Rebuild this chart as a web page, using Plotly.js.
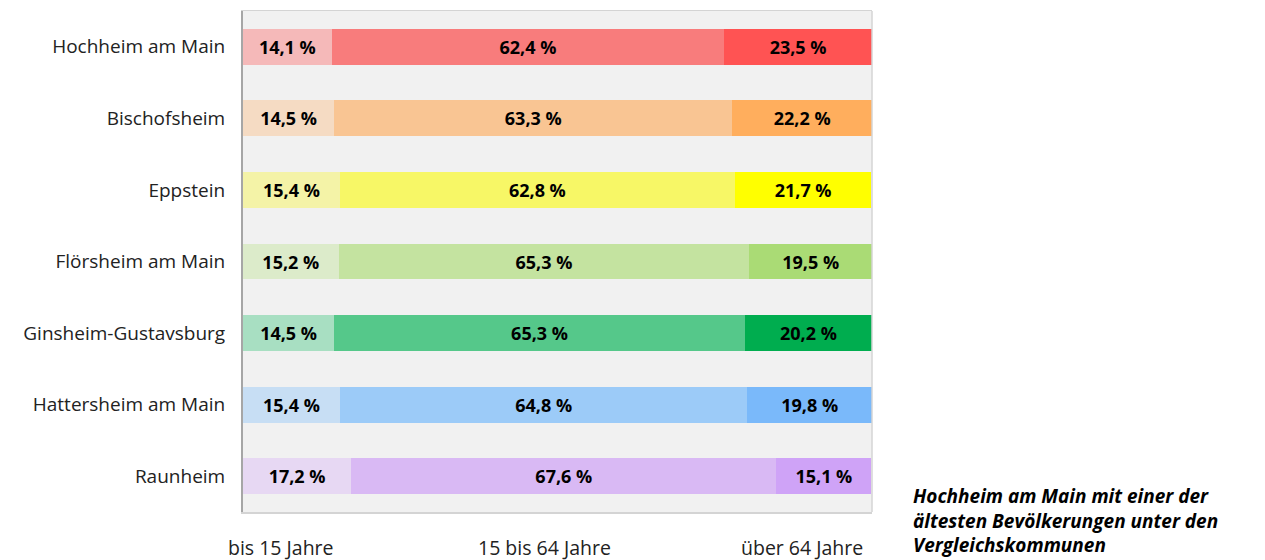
<!DOCTYPE html>
<html>
<head>
<meta charset="utf-8">
<script src="https://cdn.plot.ly/plotly-3.0.1.min.js"></script>
<style>html,body{margin:0;padding:0;background:#fff;}#chart{width:1265px;height:560px;}</style>
</head>
<body>
<div id="chart"></div>
<script>
const categories = ["Hochheim am Main","Bischofsheim","Eppstein","Flörsheim am Main","Ginsheim-Gustavsburg","Hattersheim am Main","Raunheim"];
const seriesNames = ["bis 15 Jahre","15 bis 64 Jahre","über 64 Jahre"];
const young = [14.1,14.5,15.4,15.2,14.5,15.4,17.2];
const middle = [62.4,63.3,62.8,65.3,65.3,64.8,67.6];
const old = [23.5,22.2,21.7,19.5,20.2,19.8,15.1];
const colorsYoung = ["#f5b9b9","#f5dbc3","#f4f3a7","#dcebca","#a8dfc2","#c7def4","#e7d8f3"];
const colorsMiddle = ["#f87c7c","#f9c593","#f7f766","#c4e3a0","#55c88a","#9ccbf8","#d9b9f4"];
const colorsOld = ["#ff5353","#ffae5d","#ffff00","#aadb75","#00ad4f","#7ab9fa","#cfa3f7"];
const footnote = "Hochheim am Main mit einer der<br>ältesten Bevölkerungen unter den<br>Vergleichskommunen";

const fmt = v => v.toFixed(1).replace('.', ',') + ' %';
const FONT = "Open Sans, sans-serif";

function mk(vals, colors, name){
  return {
    type:'bar', orientation:'h', name:name,
    y:categories, x:vals,
    width:0.5,
    marker:{color:colors, line:{width:0}},
    text:vals.map(fmt), textposition:'inside', insidetextanchor:'middle',
    textangle:0, constraintext:'none',
    textfont:{family:FONT, size:18, color:'#000', weight:'bold'},
    hoverinfo:'none', showlegend:false
  };
}
const data = [mk(young,colorsYoung,seriesNames[0]), mk(middle,colorsMiddle,seriesNames[1]), mk(old,colorsOld,seriesNames[2])];

const bottomFont = {family:FONT, size:19.5, color:'#222'};
const layout = {
  width:1265, height:560,
  margin:{l:243, r:393, t:11, b:48},
  barmode:'stack',
  paper_bgcolor:'#fff', plot_bgcolor:'#f1f1f1',
  font:{family:FONT, size:19, color:'#222'},
  xaxis:{range:[0,100], showgrid:false, zeroline:false, showticklabels:false, ticks:'',
         showline:true, mirror:true, linecolor:'#d4d4d4', linewidth:1.5, fixedrange:true},
  yaxis:{autorange:'reversed', showgrid:false, zeroline:false, ticks:'outside', ticklen:12, tickcolor:'rgba(0,0,0,0)',
         showline:true, linecolor:'#a6a6a6', linewidth:2,
         tickfont:{family:FONT, size:19, color:'#222'}, fixedrange:true},
  shapes:[{type:'line', xref:'paper', yref:'paper', x0:1, x1:1, y0:0, y1:1, line:{color:'#d4d4d4', width:1.5}}],
  annotations:[
    {text:seriesNames[0], xref:'paper', yref:'paper', x:0.0604, y:-0.07, xanchor:'center', yanchor:'middle', showarrow:false, font:bottomFont},
    {text:seriesNames[1], xref:'paper', yref:'paper', x:0.480, y:-0.07, xanchor:'center', yanchor:'middle', showarrow:false, font:bottomFont},
    {text:seriesNames[2], xref:'paper', yref:'paper', x:0.889, y:-0.07, xanchor:'center', yanchor:'middle', showarrow:false, font:bottomFont},
    {text:'<b><i>'+footnote+'</i></b>', xref:'paper', yref:'paper', x:1.062, y:-0.017, xanchor:'left', yanchor:'middle', align:'left', showarrow:false, font:{family:FONT,size:19,color:'#000'}}
  ]
};
Plotly.newPlot('chart', data, layout, {displayModeBar:false, staticPlot:true});
</script>
</body>
</html>
